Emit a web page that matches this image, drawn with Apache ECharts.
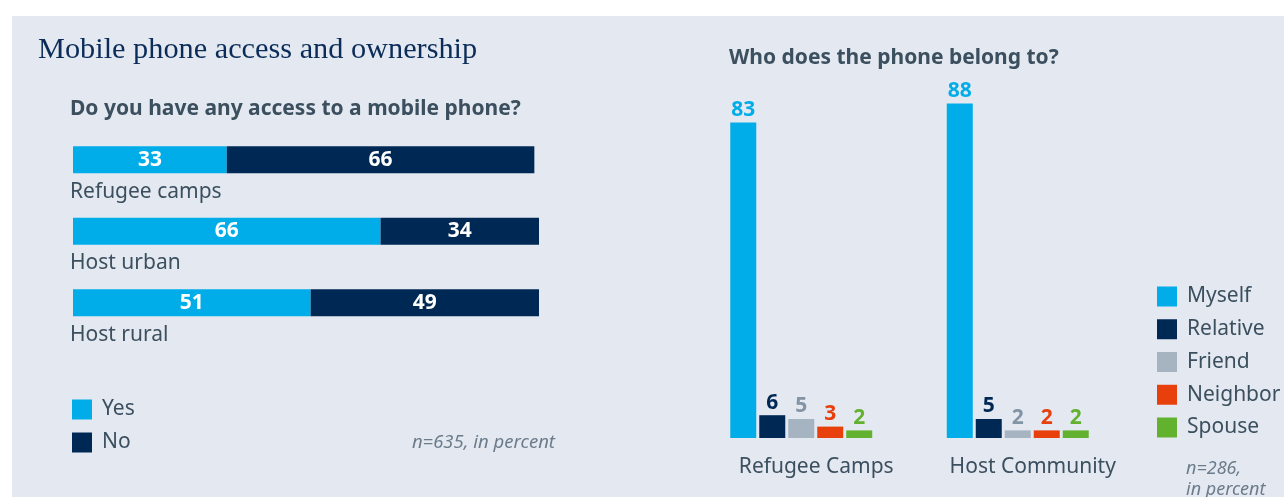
<!DOCTYPE html>
<html>
<head>
<meta charset="utf-8">
<script src="https://cdn.jsdelivr.net/npm/echarts@6/dist/echarts.min.js"></script>
<style>
  html, body { margin: 0; padding: 0; background: #ffffff; }
  #chart { width: 1284px; height: 497px; }
</style>
</head>
<body>
<div id="chart"></div>
<script>
// Access to a mobile phone, by location (percent)
const accessCategories = ['Refugee camps', 'Host urban', 'Host rural'];
const accessYes = [33, 66, 51];
const accessNo = [66, 34, 49];

// Who the phone belongs to, by group (percent)
const ownerGroups = ['Refugee Camps', 'Host Community'];
const ownerNames = ['Myself', 'Relative', 'Friend', 'Neighbor', 'Spouse'];
const ownerValues = {
  Myself:   [83, 88],
  Relative: [6, 5],
  Friend:   [5, 2],
  Neighbor: [3, 2],
  Spouse:   [2, 2]
};

const FONT = '"Noto Sans", "Open Sans", sans-serif';
const TEXT = '#3b4f5f';
const NOTE = '#6b7b8b';
const colors = {
  Yes: '#00ade8', No: '#002855',
  Myself: '#00ade8', Relative: '#002855', Friend: '#a6b3c1', Neighbor: '#e8400c', Spouse: '#62b22f'
};
const labelColors = {
  Myself: '#00ade8', Relative: '#002855', Friend: '#8394a5', Neighbor: '#e8400c', Spouse: '#62b22f'
};

const chart = echarts.init(document.getElementById('chart'), null, { renderer: 'canvas' });

const accessSeries = [['Yes', accessYes], ['No', accessNo]].map(([name, data]) => ({
  name, type: 'bar', stack: 'access', xAxisIndex: 0, yAxisIndex: 0,
  data, barWidth: 27,
  itemStyle: { color: colors[name] },
  label: {
    show: true, position: 'inside', color: '#ffffff',
    fontFamily: FONT, fontWeight: 'bold', fontSize: 21
  }
}));

const ownerSeries = ownerNames.map(name => ({
  name, type: 'bar', xAxisIndex: 1, yAxisIndex: 1,
  data: ownerValues[name], barWidth: 26, barGap: '11.5%',
  itemStyle: { color: colors[name] },
  label: {
    show: true, position: 'top', distance: 2, color: labelColors[name],
    fontFamily: FONT, fontWeight: 'bold', fontSize: 21
  }
}));

const panel = {
  id: 'panel', type: 'rect', silent: true, z: -10,
  shape: { x: 12, y: 16, width: 1272, height: 481 },
  style: { fill: '#e4e9f1' }
};

const legendText = { fontFamily: FONT, fontSize: 21, color: TEXT, padding: [0, 0, 0, 5] };

chart.setOption({
  backgroundColor: '#ffffff',
  animation: false,
  graphic: [panel],
  title: [
    { text: 'Mobile phone access and ownership', left: 38, top: 35, padding: 0,
      textStyle: { fontFamily: '"Liberation Serif", serif', fontWeight: 'normal', fontSize: 30.3, color: '#0b2c59' } },
    { text: 'Do you have any access to a mobile phone?', left: 70, top: 99, padding: 0,
      textStyle: { fontFamily: FONT, fontWeight: 'bold', fontSize: 21, color: TEXT } },
    { text: 'Who does the phone belong to?', left: 729, top: 48, padding: 0,
      textStyle: { fontFamily: FONT, fontWeight: 'bold', fontSize: 21, color: TEXT } },
    { text: 'n=635, in percent', right: 1284 - 555, top: 433, padding: 0,
      textStyle: { fontFamily: FONT, fontStyle: 'italic', fontWeight: 'normal', fontSize: 18.5, color: NOTE } },
    { text: 'n=286,\nin percent', left: 1186, top: 458, padding: 0,
      textStyle: { fontFamily: FONT, fontStyle: 'italic', fontWeight: 'normal', fontSize: 18, lineHeight: 21, color: NOTE } }
  ],
  legend: [
    { data: ['Yes', 'No'], orient: 'vertical', left: 72, top: 399, padding: 0,
      icon: 'rect', itemWidth: 20, itemHeight: 20, itemGap: 12,
      textStyle: legendText },
    { data: ownerNames, orient: 'vertical', left: 1157, top: 286, padding: 0,
      icon: 'rect', itemWidth: 20, itemHeight: 20, itemGap: 11.75,
      textStyle: legendText }
  ],
  grid: [
    { left: 73, top: 124, width: 466, height: 214.5 },
    { left: 693, top: 58, width: 433, height: 380 }
  ],
  xAxis: [
    { gridIndex: 0, type: 'value', min: 0, max: 100, show: false },
    { gridIndex: 1, type: 'category', data: ownerGroups,
      axisLine: { show: false }, axisTick: { show: false },
      axisLabel: { fontFamily: FONT, fontSize: 21, color: TEXT, margin: 19, padding: [0, 0, 0, 30] } }
  ],
  yAxis: [
    { gridIndex: 0, type: 'category', data: accessCategories, inverse: true,
      axisLine: { show: false }, axisTick: { show: false }, axisLabel: { show: false } },
    { gridIndex: 1, type: 'value', min: 0, max: 100, show: false }
  ],
  series: [...accessSeries, ...ownerSeries]
});

// Row names sit under each bar, placed from the category axis positions
const rowLabels = accessCategories.map((name, i) => ({
  id: 'row' + i, type: 'text', silent: true,
  x: 70,
  y: chart.convertToPixel({ yAxisIndex: 0 }, name) + 32,
  style: { text: name, fontFamily: FONT, fontSize: 21, fill: TEXT, verticalAlign: 'middle', align: 'left' }
}));
chart.setOption({ graphic: [panel, ...rowLabels] });
</script>
</body>
</html>
